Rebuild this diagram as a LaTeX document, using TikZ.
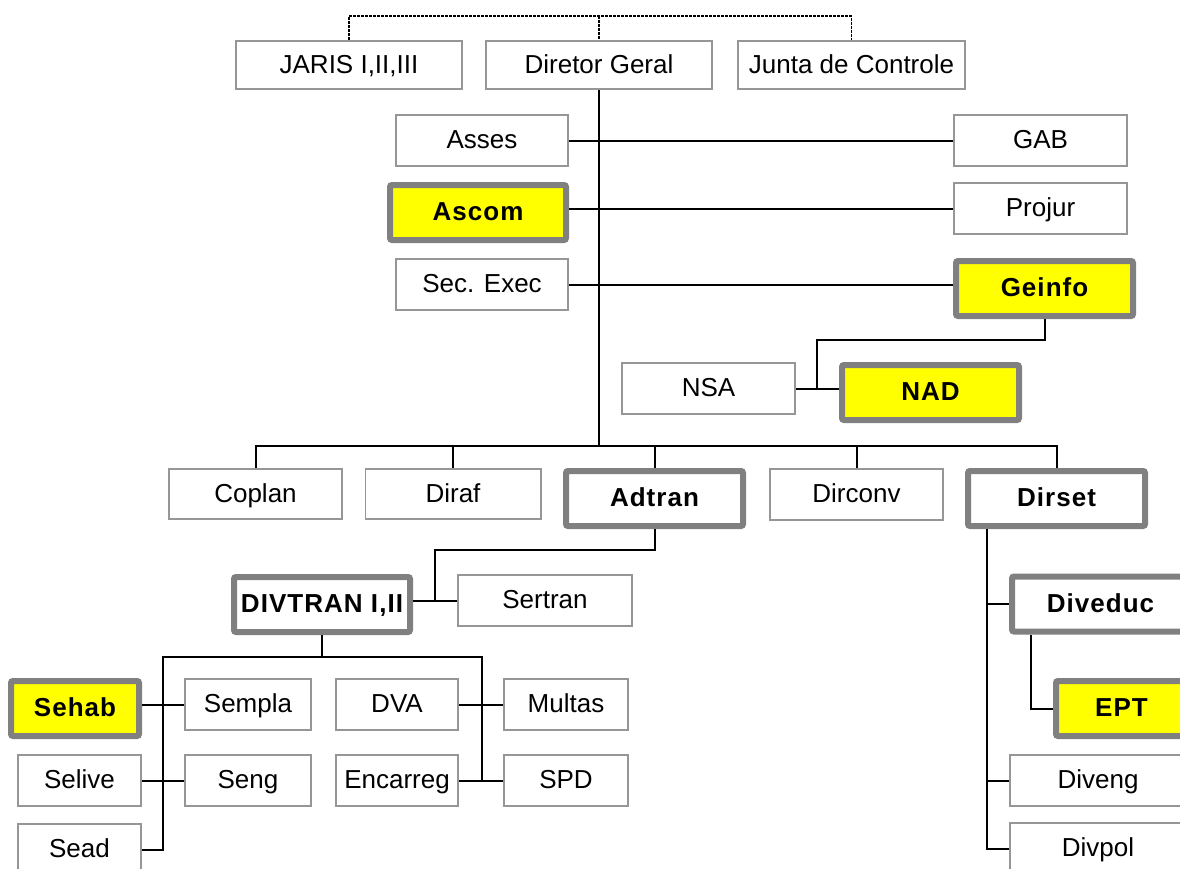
\documentclass[tikz,border=0pt]{standalone}
\usepackage{fontspec}
\setmainfont{Liberation Sans}
\usetikzlibrary{calc}
\definecolor{thinedge}{HTML}{969696}
\definecolor{thickedge}{HTML}{808080}
\definecolor{hilite}{HTML}{FFFF00}
\begin{document}
\begin{tikzpicture}[x=1pt,y=-1pt,
  font=\fontsize{26}{30}\selectfont,
  plainbox/.style={draw=thinedge, line width=1.6pt, fill=white, inner sep=0pt,
    text height=21pt, text depth=5pt,
    minimum width=#1-1.6pt, minimum height=51.4pt},
  plainbox/.default=174pt,
  unitbox/.style={draw=thickedge, line width=6pt, rounded corners=2pt, fill=white,
    inner sep=0pt, text height=21pt, text depth=5pt,
    minimum width=#1-6pt, minimum height=55pt,
    font=\fontsize{26}{30}\selectfont\bfseries\addfontfeature{LetterSpace=4}},
  unitbox/.default=183pt,
  hibox/.style={unitbox=#1, fill=hilite},
  hibox/.default=183pt,
  link/.style={draw=black, line width=2pt},
  trunk/.style={draw=black, line width=2.6pt},
  tie/.style={draw=black, line width=1.6pt, dash pattern=on 3pt off 1pt}]
\useasboundingbox (0,0) rectangle (1180,868);
\clip (0,0) rectangle (1180,868);

% top row
\node[plainbox=228pt, minimum height=48.4pt] (jaris) at (349,65) {JARIS I,II,III};
\node[plainbox=228pt, minimum height=48.4pt] (dg) at (599,65) {Diretor Geral};
\node[plainbox=229pt, minimum height=48.4pt] (junta) at (851.5,65) {Junta de Controle};

% staff units beside the trunk
\node[plainbox] (asses) at (482,140.5) {Asses};
\node[plainbox=175pt] (gab) at (1040.5,140.5) {GAB};
\node[hibox=182pt] (ascom) at (478,212.5) {Ascom};
\node[plainbox=175pt] (projur) at (1040.5,208.5) {Projur};
\node[plainbox] (secexec) at (482,284.5) {Sec. Exec};
\node[hibox] (geinfo) at (1044.5,288.5) {Geinfo};
\node[plainbox=175pt] (nsa) at (708.5,388.5) {NSA};
\node[hibox] (nad) at (930.5,392.5) {NAD};

% directorates
\node[plainbox=175pt, minimum height=50.4pt] (coplan) at (255.5,494) {Coplan};
\node[plainbox=177pt, minimum height=50.4pt] (diraf) at (453,494) {Diraf};
\node[unitbox] (adtran) at (654.5,498.5) {Adtran};
\node[plainbox=175pt] (dirconv) at (856.5,494.5) {Dirconv};
\node[unitbox] (dirset) at (1056.5,498.5) {Dirset};

% transit branch
\node[unitbox=182pt] (divtran) at (322,604.5) {DIVTRAN I,II};
\node[plainbox=176pt] (sertran) at (545,600.5) {Sertran};
\node[hibox=134pt] (sehab) at (75,708.5) {Sehab};
\node[plainbox=128pt] (sempla) at (248,704.5) {Sempla};
\node[plainbox=125pt] (selive) at (79.5,780.5) {Selive};
\node[plainbox=128pt] (seng) at (248,780.5) {Seng};
\node[plainbox=125pt] (sead) at (79.5,849.5) {Sead};
\node[plainbox=124pt] (dva) at (397,704.5) {DVA};
\node[plainbox=124pt] (encarreg) at (397,780.5) {Encarreg};
\node[plainbox=126pt] (multas) at (566,704.5) {Multas};
\node[plainbox=126pt] (spd) at (566,780.5) {SPD};

% sector branch
\node[unitbox] (diveduc) at (1100.5,604) {Diveduc};
\node[hibox=137pt] (ept) at (1121.5,708.5) {EPT};
\node[plainbox=178pt] (diveng) at (1098,780.5) {Diveng};
\node[plainbox=178pt] (divpol) at (1098,848.5) {Divpol};

% junction points
\coordinate (topbar) at (599,16);
\coordinate (bus) at (599,446);
\coordinate (geinfoj) at (817,340);
\coordinate (adtranj) at (435,550);
\coordinate (tranbus) at (322,657);
\coordinate (tranleft) at (163,657);
\coordinate (tranright) at (482,657);
\coordinate (setx) at (987,0);
\coordinate (educx) at (1031,0);

% dotted link across the top row
\draw[tie] (jaris.north) |- (topbar) -| (junta.north);
\draw[tie] (topbar) -- (dg.north);

% main trunk
\draw[trunk] (dg.south) -- (bus);
\draw[link] (asses.east) -- (gab.west);
\draw[link] (projur.west) -- (projur.west -| ascom.east);
\draw[link] (secexec.east) -- (secexec.east -| geinfo.west);

% Geinfo units
\draw[link] (geinfo.south) |- (geinfoj) -- (geinfoj |- nsa.east);
\draw[link] (nsa.east) -- (nsa.east -| nad.west);

% directorate bus
\draw[link] (coplan.north) |- (bus) -| (dirset.north);
\draw[link] (diraf.north) -- (diraf.north |- bus);
\draw[link] (adtran.north) -- (adtran.north |- bus);
\draw[link] (dirconv.north) -- (dirconv.north |- bus);

% Adtran subtree
\draw[link] (adtran.south) |- (adtranj) -- (adtranj |- sertran.west);
\draw[link] (sertran.west) -- (sertran.west -| divtran.east);
\draw[link] (divtran.south) -- (tranbus);
\draw[link] (sead.east) -| (tranleft) -- (tranright) |- (spd.west);
\draw[link] (sehab.east |- sempla.west) -- (sempla.west);
\draw[link] (selive.east) -- (seng.west);
\draw[link] (dva.east) -- (multas.west);
\draw[link] (encarreg.east) -- (spd.west);

% Dirset subtree
\draw[link] (dirset.south -| setx) -- (setx |- divpol.west) -- (divpol.west);
\draw[link] (setx |- diveduc.west) -- (diveduc.west);
\draw[link] (setx |- diveng.west) -- (diveng.west);
\draw[link] (diveduc.south -| educx) |- (ept.west);
\end{tikzpicture}
\end{document}
